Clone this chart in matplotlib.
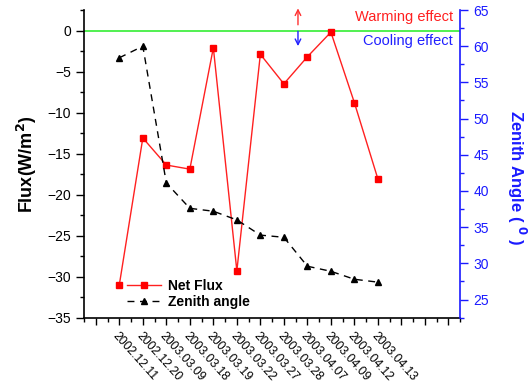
import matplotlib
matplotlib.use("Agg")
import matplotlib.pyplot as plt
from matplotlib.ticker import MultipleLocator, FixedLocator

plt.rcParams['font.family'] = ['Liberation Sans', 'DejaVu Sans']

dates = ["2002.12.11", "2002.12.20", "2003.03.09", "2003.03.18", "2003.03.19",
         "2003.03.22", "2003.03.27", "2003.03.28", "2003.04.07", "2003.04.09",
         "2003.04.12", "2003.04.13"]
net_flux = [-31.0, -13.1, -16.4, -16.9, -2.1, -29.3, -2.9, -6.5, -3.2, -0.2, -8.8, -18.1]
zenith = [58.4, 60.0, 41.1, 37.6, 37.2, 36.0, 33.9, 33.6, 29.6, 28.9, 27.8, 27.4]

x = list(range(len(dates)))

fig = plt.figure(figsize=(5.32, 3.85), dpi=100)
ax = fig.add_axes([0.158, 0.175, 0.707, 0.799])
ax2 = ax.twinx()

ax.set_xlim(-1.5, 14.5)
ax.set_ylim(-35, 2.5)
ax2.set_ylim(22.5, 65)

ax.axhline(0, color='#33ee33', lw=1.2, zorder=1)

l1, = ax.plot(x, net_flux, color='#ff2020', lw=1.0, marker='s', ms=4,
              markerfacecolor='#ff0000', markeredgecolor='#ff0000', zorder=3)
l2, = ax2.plot(x, zenith, color='black', lw=1.0, ls=(0, (5, 4)), marker='^', ms=4,
               markerfacecolor='black', zorder=3)

# spines
for a in (ax, ax2):
    a.spines['top'].set_visible(False)
ax.spines['right'].set_visible(False)
ax2.spines['left'].set_visible(False)
ax2.spines['bottom'].set_visible(False)
ax2.spines['right'].set_color('#1a1aff')
ax2.spines['right'].set_linewidth(1.2)
ax.spines['left'].set_linewidth(1.2)
ax.spines['bottom'].set_linewidth(1.2)

major_pos = list(range(-1, 15))
major_labels = [dates[p] if 0 <= p < len(dates) else '' for p in major_pos]
ax.set_xticks(major_pos)
ax.set_xticklabels(major_labels, rotation=-48, ha='left', va='top',
                   rotation_mode='anchor', fontsize=8.8)
ax.xaxis.set_minor_locator(FixedLocator([v + 0.5 for v in range(-2, 15)]))
ax.tick_params(axis='x', which='major', length=5, width=1, pad=4)
ax.tick_params(axis='x', which='minor', length=3, width=1)

ax.yaxis.set_major_locator(MultipleLocator(5))
ax.yaxis.set_minor_locator(MultipleLocator(2.5))
ax.tick_params(axis='y', which='major', length=6, width=1, labelsize=10)
ax.tick_params(axis='y', which='minor', length=3, width=1)

ax2.yaxis.set_major_locator(MultipleLocator(5))
ax2.yaxis.set_minor_locator(MultipleLocator(2.5))
ax2.tick_params(axis='y', which='major', length=6, width=1, labelsize=10,
                colors='#1a1aff')
ax2.tick_params(axis='y', which='minor', length=3, width=1, colors='#1a1aff')

ax.set_ylabel('Flux(W/m$^\\mathbf{2}$)', fontsize=13, fontweight='bold', labelpad=6)
ax2.set_ylabel('Zenith Angle ( $^\\mathbf{0}$ )', fontsize=12, fontweight='bold',
               color='#1a1aff', rotation=270, va='center', ha='center')
ax2.yaxis.set_label_coords(1.15, 0.455)

# effect annotations
ax.annotate('', xy=(7.6, 2.7), xytext=(7.6, 0.7), annotation_clip=False,
            arrowprops=dict(arrowstyle='->', color='#ff3030', lw=1,
                            shrinkA=0, shrinkB=0))
ax.annotate('', xy=(7.6, -1.9), xytext=(7.6, -0.1), annotation_clip=False,
            arrowprops=dict(arrowstyle='->', color='#2020ff', lw=1,
                            shrinkA=0, shrinkB=0))
ax.text(14.2, 1.7, 'Warming effect', color='#ff2020', fontsize=10.5, ha='right', va='center')
ax.text(14.2, -1.3, 'Cooling effect', color='#2020ff', fontsize=10.5, ha='right', va='center')

leg = ax.legend([l1, l2], ['Net Flux', 'Zenith angle'], loc='lower left',
                bbox_to_anchor=(0.10, 0.01), frameon=False, fontsize=10,
                handlelength=2.4, handletextpad=0.5, labelspacing=0.15,
                borderaxespad=0)
for t in leg.get_texts():
    t.set_fontweight('bold')

fig.savefig('out.png', dpi=100)
